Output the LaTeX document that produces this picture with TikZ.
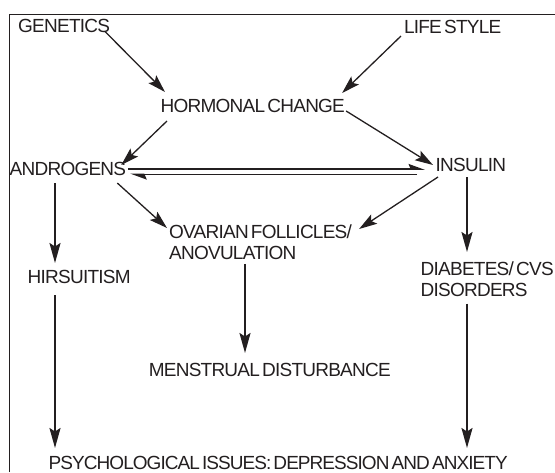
\documentclass[tikz,border=0pt]{standalone}
\usepackage{fontspec}
\setmainfont{Liberation Sans}[LetterSpace=-4,WordSpace=0.5]
\usetikzlibrary{arrows.meta}
\definecolor{ink}{HTML}{231F20}
\begin{document}
\begin{tikzpicture}[x=1pt,y=-1pt,
  lbl/.style={inner sep=0pt,anchor=base west,font=\fontsize{19}{21}\selectfont,text=ink},
  mlbl/.style={lbl,anchor=north west,align=left},
  diag/.style={draw=ink,line width=1.3pt,-{Stealth[length=18pt,width=11pt,inset=3.5pt]}},
  vert/.style={draw=ink,line width=2.2pt,-{Stealth[length=20pt,width=11pt,inset=3.5pt]}},
  harp/.style={draw=ink,line width=1.7pt,-{Stealth[harpoon,length=14pt,width=10pt,inset=2pt]}},
  frame/.style={draw=ink,line width=1pt}]
\useasboundingbox (0,0) rectangle (555,472);
\draw[frame] (9,472) -- (9,14.5) -- (555,14.5);

\node[lbl]  (gen)  at (18,32.7)    {GENETICS};
\node[lbl]  (ls)   at (403.8,33.3) {LIFE STYLE};
\node[lbl]  (hc)   at (160.5,112)  {HORMONAL CHANGE};
\node[lbl]  (andr) at (9.5,175)    {ANDROGENS};
\node[lbl]  (ins)  at (435.5,171.5){INSULIN};
\node[mlbl] (ov)   at (169,225)    {OVARIAN FOLLICLES/\\ANOVULATION};
\node[lbl]  (hirs) at (27.5,283)   {HIRSUITISM};
\node[mlbl] (dia)  at (420.5,261.7){DIABETES/ CVS\\DISORDERS};
\node[lbl]  (men)  at (148.6,376.5){MENSTRUAL DISTURBANCE};
\node[lbl]  (psy)  at (48.5,469.5) {\addfontfeatures{LetterSpace=-5}PSYCHOLOGICAL ISSUES: DEPRESSION AND ANXIETY};

\draw[diag] ([shift={(-5,-1)}]gen.base east) -- ([shift={(4.5,-20)}]hc.base west);
\draw[diag] ([shift={(-2.8,2.7)}]ls.base west) -- ([shift={(-3,-19)}]hc.base east);
\draw[diag] ([shift={(6.5,9)}]hc.base west) -- ([shift={(-5,-10)}]andr.base east);
\draw[diag] ([shift={(1,-1)}]hc.base east) -- ([shift={(-2.5,-6.5)}]ins.base west);
\draw[diag] ([shift={(-9,8)}]andr.base east) -- ([shift={(-2,3)}]ov.north west);
\draw[diag] ([shift={(2.5,5.5)}]ins.base west) -- ([shift={(7,4)}]ov.north east);

\draw[vert] ([shift={(45.5,8)}]andr.base west) -- ([shift={(27.5,-20)}]hirs.base west);
\draw[vert] ([shift={(27.5,12)}]hirs.base west) -- ([shift={(6.5,-21.5)}]psy.base west);
\draw[vert] ([shift={(76,3.5)}]ov.south west) -- ([shift={(96.4,-23.5)}]men.base west);
\draw[vert] ([shift={(31.5,5.5)}]ins.base west) -- ([shift={(46.5,-9.7)}]dia.north west);
\draw[vert] ([shift={(46.5,6.5)}]dia.south west) -- ([shift={(418.5,-21.5)}]psy.base west);

\draw[harp] ([shift={(2,-6)}]andr.base east) -- ([shift={(-10.5,-2.5)}]ins.base west);
\draw[harp] ([shift={(-18.5,3)}]ins.base west) -- ([shift={(4,-0.5)}]andr.base east);
\end{tikzpicture}
\end{document}
